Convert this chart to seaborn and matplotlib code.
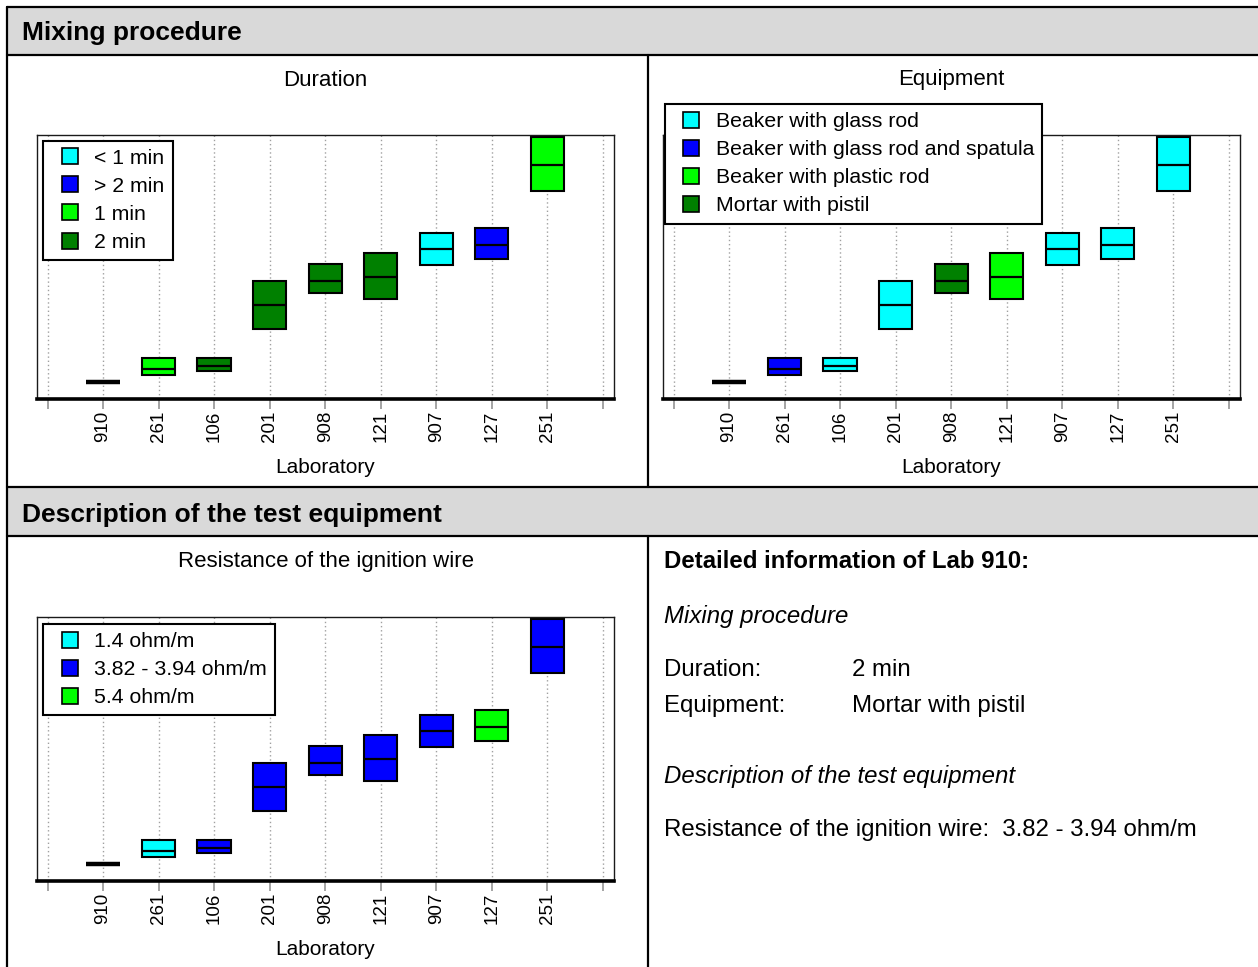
import numpy as np
import pandas as pd
import matplotlib
matplotlib.use("Agg")
import matplotlib.pyplot as plt
import seaborn as sns
from matplotlib.lines import Line2D
from matplotlib.patches import Rectangle

# ---- data -------------------------------------------------------------
labs = ["910", "261", "106", "201", "908", "121", "907", "127", "251"]
# lower limit, centre value and upper limit of each laboratory's result range
range_low = [1.70, 2.40, 2.80, 7.00, 10.60, 9.98, 13.40, 13.98, 20.80]
range_mid = [1.70, 3.05, 3.28, 9.42, 11.85, 12.23, 15.00, 15.43, 23.40]
range_high = [1.70, 4.07, 4.07, 11.85, 13.50, 14.65, 16.65, 17.08, 26.20]

duration = ["2 min", "1 min", "2 min", "2 min", "2 min", "2 min",
            "< 1 min", "> 2 min", "1 min"]
equipment = ["Mortar with pistil", "Beaker with glass rod and spatula",
             "Beaker with glass rod", "Beaker with glass rod",
             "Mortar with pistil", "Beaker with plastic rod",
             "Beaker with glass rod", "Beaker with glass rod",
             "Beaker with glass rod"]
resistance = ["3.82 - 3.94 ohm/m", "1.4 ohm/m", "3.82 - 3.94 ohm/m",
              "3.82 - 3.94 ohm/m", "3.82 - 3.94 ohm/m", "3.82 - 3.94 ohm/m",
              "3.82 - 3.94 ohm/m", "5.4 ohm/m", "3.82 - 3.94 ohm/m"]

duration_levels = ["< 1 min", "> 2 min", "1 min", "2 min"]
equipment_levels = ["Beaker with glass rod", "Beaker with glass rod and spatula",
                    "Beaker with plastic rod", "Mortar with pistil"]
resistance_levels = ["1.4 ohm/m", "3.82 - 3.94 ohm/m", "5.4 ohm/m"]

level_colors = ["#00ffff", "#0000ff", "#00ff00", "#008000"]

selected_lab = "910"

# ---- style ------------------------------------------------------------
sns.set_theme(style="white")
plt.rcParams["font.family"] = ["Liberation Sans", "DejaVu Sans"]
plt.rcParams["text.color"] = "black"
plt.rcParams["axes.labelcolor"] = "black"
plt.rcParams["xtick.color"] = "black"
plt.rcParams["xtick.labelcolor"] = "black"

W, H = 1258, 967
fig = plt.figure(figsize=(W / 100, H / 100), dpi=100, facecolor="white")


def fx(px):
    return px / W


def fy(py):
    return 1 - py / H


def rect_px(x0, y0, x1, y1):
    return [fx(x0), fy(y1), (x1 - x0) / W, (y1 - y0) / H]


# Long-form table: five samples per lab whose quartiles are the range
# limits and whose median is the centre value, so each box spans the range.
records = []
for i, lab in enumerate(labs):
    for v in (range_low[i], range_low[i], range_mid[i], range_high[i], range_high[i]):
        records.append({"lab": lab, "value": v, "duration": duration[i],
                        "equipment": equipment[i], "resistance": resistance[i]})
frame = pd.DataFrame(records)

# ---- table frame ------------------------------------------------------
GRAY = "#d9d9d9"
LINE_W = 1.6


def band(y0, y1):
    fig.add_artist(Rectangle((fx(7), fy(y1)), 1 - fx(7), (y1 - y0) / H,
                             transform=fig.transFigure, facecolor=GRAY,
                             edgecolor="none", zorder=0))


def hline(y, x0=7, x1=W):
    fig.add_artist(Line2D([fx(x0), fx(x1)], [fy(y), fy(y)], color="black",
                          linewidth=LINE_W, transform=fig.transFigure))


def vline(x, y0, y1):
    fig.add_artist(Line2D([fx(x), fx(x)], [fy(y0), fy(y1)], color="black",
                          linewidth=LINE_W, transform=fig.transFigure))


band(7, 55)
band(487, 536)
hline(7)
hline(55)
hline(487)
hline(536)
vline(7, 7, H)
vline(648, 55, 487)
vline(648, 536, H)

fig.text(fx(22), fy(33), "Mixing procedure", fontsize=19, fontweight="bold",
         va="center", ha="left")
fig.text(fx(22), fy(515), "Description of the test equipment", fontsize=19,
         fontweight="bold", va="center", ha="left")


# ---- range panels -----------------------------------------------------
def range_panel(rect, title, group, levels, legend_xy):
    ax = fig.add_axes(rect)
    colors = level_colors[:len(levels)]
    sns.boxplot(data=frame, x="lab", y="value", hue=group, order=labs,
                hue_order=levels, palette=dict(zip(levels, colors)),
                saturation=1, width=0.6, whis=0, linecolor="black",
                linewidth=1.5, showcaps=False, fliersize=0, legend=False,
                medianprops=dict(color="black", linewidth=1.6), ax=ax)
    # a zero-width range is shown as a bold bar
    for p in ax.patches:
        if p.get_path().get_extents().height < 1e-9:
            p.set_linewidth(3.2)

    ax.set_xlim(-1.19, 9.2)
    ax.set_ylim(0, 26.4)
    ax.set_yticks([])
    ax.set_ylabel("")
    ax.set_xticks(np.arange(-1, len(labs) + 1))
    ax.set_xticklabels([""] + labs + [""], rotation=90, fontsize=13.5)
    ax.set_xlabel("Laboratory", fontsize=15)
    ax.xaxis.set_label_coords(0.5, -0.225)
    ax.grid(axis="x", color="#a0a0a0", linestyle=(0, (1, 2)), linewidth=1)
    ax.grid(axis="y", visible=False)
    ax.set_axisbelow(True)
    ax.tick_params(axis="x", direction="out", bottom=True, length=7,
                   width=1.1, color="#8c8c8c", labelcolor="black", pad=1.5)
    for s in ("left", "top", "right"):
        ax.spines[s].set_visible(True)
        ax.spines[s].set_linewidth(1.0)
        ax.spines[s].set_color("#1a1a1a")
    ax.spines["bottom"].set_linewidth(2.6)
    ax.spines["bottom"].set_color("black")
    ax.set_title(title, fontsize=16, y=1 + 55 / 264, va="center", pad=0,
                 color="black")

    handles = [Line2D([], [], linestyle="None", marker="s", markersize=11,
                      markerfacecolor=c, markeredgecolor="black",
                      markeredgewidth=1.2) for c in colors]
    leg = ax.legend(handles, levels, loc="upper left",
                    bbox_to_anchor=(fx(legend_xy[0]), fy(legend_xy[1])),
                    bbox_transform=fig.transFigure, fontsize=15.3, frameon=True,
                    fancybox=False, edgecolor="black", framealpha=1,
                    borderpad=0.38, labelspacing=0.43, handlelength=1.69,
                    handletextpad=0.32, borderaxespad=0)
    leg.get_frame().set_linewidth(1.5)
    for t in leg.get_texts():
        t.set_color("black")
    leg.set_zorder(5)
    return ax


range_panel(rect_px(37, 135, 614, 399), "Duration", "duration",
            duration_levels, (43.5, 140.5))
range_panel(rect_px(663, 135, 1240, 399), "Equipment", "equipment",
            equipment_levels, (665, 104))
range_panel(rect_px(37, 617, 614, 881), "Resistance of the ignition wire",
            "resistance", resistance_levels, (43.5, 624))

# ---- detail text for the selected laboratory -------------------------
k = labs.index(selected_lab)
FS = 17.3
fig.text(fx(664), fy(562), f"Detailed information of Lab {selected_lab}:",
         fontsize=FS, fontweight="bold", va="center")
fig.text(fx(664), fy(617), "Mixing procedure", fontsize=FS,
         fontstyle="italic", va="center")
fig.text(fx(664), fy(670), "Duration:", fontsize=FS, va="center")
fig.text(fx(852), fy(670), duration[k], fontsize=FS, va="center")
fig.text(fx(664), fy(706), "Equipment:", fontsize=FS, va="center")
fig.text(fx(852), fy(706), equipment[k], fontsize=FS, va="center")
fig.text(fx(664), fy(777), "Description of the test equipment", fontsize=FS,
         fontstyle="italic", va="center")
fig.text(fx(664), fy(830), f"Resistance of the ignition wire:  {resistance[k]}",
         fontsize=FS, va="center")

fig.savefig("out.png", dpi=100, facecolor="white")
